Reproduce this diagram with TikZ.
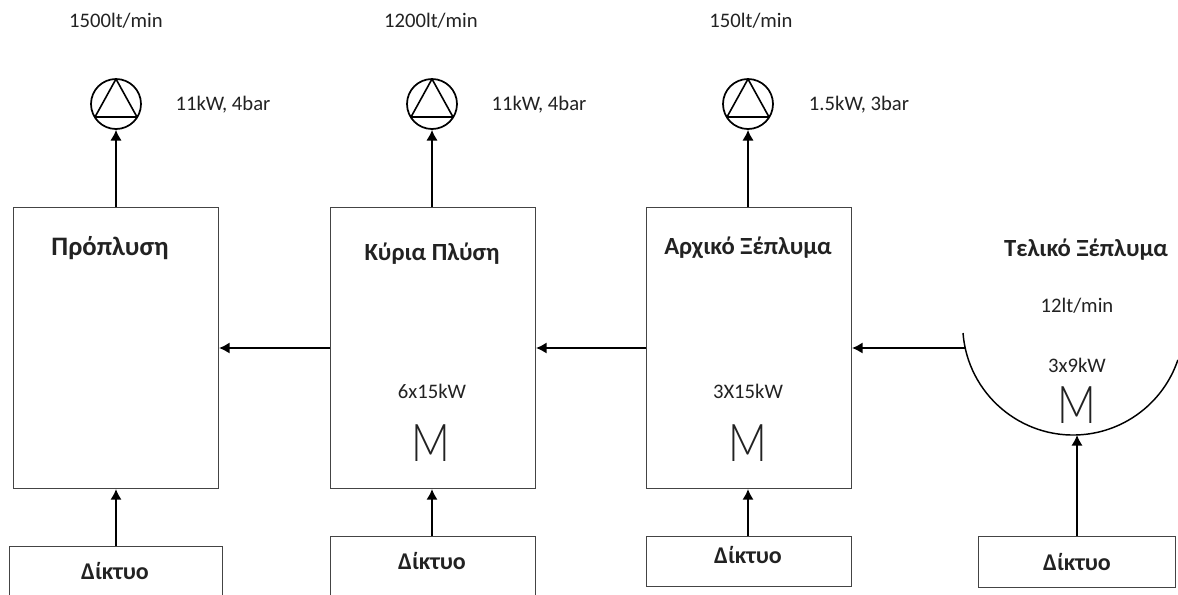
\documentclass[tikz,border=0pt]{standalone}
\usepackage{fontspec}
\setmainfont{Carlito}
\newfontfamily\mfont{Lato Light}
\definecolor{ink}{HTML}{222222}
\definecolor{edge}{HTML}{444444}
\tikzset{
  x=0.75pt,y=-0.75pt,
  unit/.style={draw=edge,line width=0.8pt,rectangle,inner sep=0pt,anchor=north west},
  pumpc/.style={draw=black,line width=1.3pt,circle,inner sep=0pt,minimum size=37.5pt},
  flow/.style={draw=black,line width=1.2pt,-{Latex[length=8pt,width=8.5pt]}},
  title/.style={font=\bfseries\fontsize{18.5}{20}\selectfont,text=ink,inner sep=0pt},
  lab/.style={font=\fontsize{15.5}{17}\selectfont,text=ink,inner sep=0pt},
  motor/.style={font=\mfont\fontsize{39}{39}\selectfont,text=ink,inner sep=0pt,xscale=0.82}
}
\usetikzlibrary{arrows.meta}
\begin{document}
\begin{tikzpicture}
\useasboundingbox (0,0) rectangle (1178,594);
\clip (0,0) rectangle (1178,594);
% tanks
\node[unit,minimum width=153.75pt,minimum height=210.75pt] (b1) at (13,207) {};
\node[unit,minimum width=153.75pt,minimum height=210.75pt] (b2) at (330,207) {};
\node[unit,minimum width=153.75pt,minimum height=210.75pt] (b3) at (646,207) {};
% mains boxes
\node[unit,minimum width=159.75pt,minimum height=45pt] (d1) at (9,546) {};
\node[unit,minimum width=153.75pt,minimum height=45pt] (d2) at (330,536) {};
\node[unit,minimum width=153.75pt,minimum height=37.5pt] (d3) at (646,536) {};
\node[unit,minimum width=147.75pt,minimum height=38.25pt] (d4) at (978,536) {};
\node[title,font=\bfseries\fontsize{18}{20}\selectfont] (t1) at (115,571) {Δίκτυο};
\node[title,font=\bfseries\fontsize{18}{20}\selectfont] (t2) at (432,561) {Δίκτυο};
\node[title,font=\bfseries\fontsize{18}{20}\selectfont] (t3) at (748,555) {Δίκτυο};
\node[title,font=\bfseries\fontsize{18}{20}\selectfont] (t4) at (1077,562) {Δίκτυο};
% pumps
\foreach \n/\cx in {p1/116,p2/432,p3/748}{
  \node[pumpc] (\n) at (\cx,104) {};
  \draw[black,line width=1.2pt,line join=round] (\cx,79) -- (\cx-21,117) -- (\cx+21,117) -- cycle;
}
% final rinse bowl
\draw[black,line width=1.1pt] (963,333) arc[start angle=184.4,delta angle=156.9,radius=82.875pt];
\coordinate (bowlin) at (966,348);
\coordinate (bowlbot) at (1077,435);
% connectors
\draw[flow] (b1.north -| p1) -- (p1.south);
\draw[flow] (b2.north -| p2) -- (p2.south);
\draw[flow] (b3.north -| p3) -- (p3.south);
\draw[flow] (d1.north -| p1) -- (b1.south -| p1);
\draw[flow] (d2.north -| p2) -- (b2.south -| p2);
\draw[flow] (d3.north -| p3) -- (b3.south -| p3);
\draw[flow] (d4.north -| bowlbot) -- (bowlbot);
\draw[flow] (b2.west |- bowlin) -- (b1.east |- bowlin);
\draw[flow] (b3.west |- bowlin) -- (b2.east |- bowlin);
\draw[flow] (bowlin) -- (b3.east |- bowlin);
% labels
\node[lab] (q1) at (116,21) {1500lt/min};
\node[lab] (q2) at (431,21) {1200lt/min};
\node[lab] (q3) at (751,21) {150lt/min};
\node[lab] (r1) at (223,105) {11kW, 4bar};
\node[lab] (r2) at (539,105) {11kW, 4bar};
\node[lab] (r3) at (859,105) {1.5kW, 3bar};
\node[title,font=\bfseries\fontsize{20}{22}\selectfont] (n1) at (110,248) {Πρόπλυση};
\node[title] (n2) at (432,254) {Κύρια Πλύση};
\node[title] (n3) at (748,248) {Αρχικό Ξέπλυμα};
\node[title] (n4) at (1086,250) {Τελικό Ξέπλυμα};
\node[lab] (q4) at (1077,306) {12lt/min};
\node[lab] (k2) at (432,391) {6x15kW};
\node[lab] (k3) at (748,391) {3X15kW};
\node[lab] (k4) at (1077,365) {3x9kW};
\node[motor] (m2) at (431,443) {M};
\node[motor] (m3) at (748,443) {M};
\node[motor] (m4) at (1077,405) {M};
\end{tikzpicture}
\end{document}
